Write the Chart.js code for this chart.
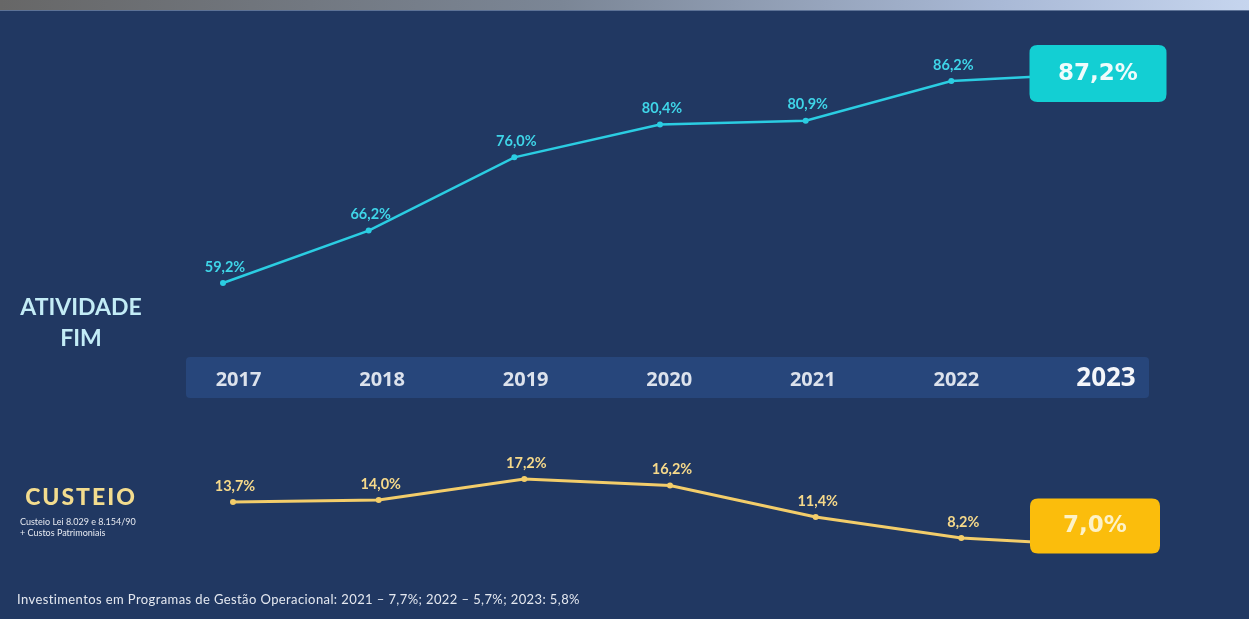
<!DOCTYPE html>
<html>
<head>
<meta charset="utf-8">
<script src="https://cdn.jsdelivr.net/npm/chart.js@4/dist/chart.umd.min.js"></script>
<style>
  html,body{margin:0;padding:0;}
  body{width:1249px;height:619px;background:#213862;position:relative;overflow:hidden;font-family:Lato,"Open Sans",sans-serif;}
  #strip{position:absolute;left:0;top:0;width:1249px;height:10px;background:linear-gradient(90deg,#676767 0%,#7b8696 45%,#a9b9d6 80%,#c6d5ee 100%);border-bottom:1px solid #5d7296;}
  canvas{position:absolute;left:0;top:0;}
  .lbl{position:absolute;text-align:center;font-weight:700;}
  #atv{left:0;width:162px;top:291px;color:#c3ecf6;font-size:23px;line-height:31px;}
  #cus{left:0;width:162px;top:482px;color:#f3dc8e;font-size:23px;letter-spacing:2px;font-weight:900;}
  #cusSub{position:absolute;left:20px;top:516px;color:#e6e9f0;font-size:9px;line-height:11px;}
  #foot{position:absolute;left:17px;top:591px;color:#e4e8f0;font-size:13px;letter-spacing:0.4px;}
</style>
</head>
<body>
<div id="strip"></div>
<canvas id="top" width="1249" height="619"></canvas>
<canvas id="bot" width="1249" height="619"></canvas>
<div class="lbl" id="atv">ATIVIDADE<br>FIM</div>
<div class="lbl" id="cus">CUSTEIO</div>
<div id="cusSub">Custeio Lei 8.029 e 8.154/90<br>+ Custos Patrimoniais</div>
<div id="foot">Investimentos em Programas de Gestão Operacional: 2021 – 7,7%; 2022 – 5,7%; 2023: 5,8%</div>
<script>
const years = ['2017','2018','2019','2020','2021','2022','2023'];
const atividadeFim = [59.2, 66.2, 76.0, 80.4, 80.9, 86.2, 87.2];
const custeio = [13.7, 14.0, 17.2, 16.2, 11.4, 8.2, 7.0];

const fmt = v => v.toFixed(1).replace('.', ',') + '%';

function roundRect(ctx, x, y, w, h, r) {
  ctx.beginPath();
  ctx.moveTo(x + r, y);
  ctx.lineTo(x + w - r, y);
  ctx.quadraticCurveTo(x + w, y, x + w, y + r);
  ctx.lineTo(x + w, y + h - r);
  ctx.quadraticCurveTo(x + w, y + h, x + w - r, y + h);
  ctx.lineTo(x + r, y + h);
  ctx.quadraticCurveTo(x, y + h, x, y + h - r);
  ctx.lineTo(x, y + r);
  ctx.quadraticCurveTo(x, y, x + r, y);
  ctx.closePath();
}

function labelPlugin(cfg) {
  return {
    id: 'lbl' + cfg.name,
    beforeDatasetsDraw(chart) {
      if (!cfg.band) return;
      const ctx = chart.ctx;
      ctx.save();
      ctx.fillStyle = '#27467b';
      roundRect(ctx, 186, 357, 963, 41, 4);
      ctx.fill();
      const xs = chart.scales.x;
      ctx.textAlign = 'center';
      ctx.textBaseline = 'middle';
      years.forEach((y, i) => {
        const last = i === years.length - 1;
        ctx.font = last ? 'bold 26px "Open Sans", sans-serif' : 'bold 20px "Open Sans", sans-serif';
        ctx.fillStyle = last ? '#f4f6fa' : '#dce2ec';
        const x = xs.getPixelForValue(i) + (last ? -1 : 5.5 - i * 2.1);
        ctx.fillText(y, x, last ? 379 : 380);
      });
      ctx.restore();
    },
    afterDatasetsDraw(chart) {
      const ctx = chart.ctx;
      const meta = chart.getDatasetMeta(0);
      const data = chart.data.datasets[0].data;
      ctx.save();
      ctx.textAlign = 'center';
      ctx.textBaseline = 'middle';
      meta.data.forEach((pt, i) => {
        if (i < data.length - 1) {
          ctx.font = 'bold 14.5px Lato, sans-serif';
          ctx.fillStyle = cfg.text;
          ctx.fillText(fmt(data[i]), pt.x + 2, pt.y - 16);
        } else {
          const cx = pt.x + cfg.dx, cy = pt.y + cfg.dy;
          ctx.fillStyle = cfg.box;
          roundRect(ctx, cx - cfg.w / 2, cy - cfg.h / 2, cfg.w, cfg.h, 8);
          ctx.fill();
          ctx.font = 'bold 23px "DejaVu Sans", sans-serif';
          ctx.fillStyle = cfg.boxText;
          ctx.fillText(fmt(data[i]), cx, cy);
        }
      });
      ctx.restore();
    }
  };
}

function makeChart(id, data, color, pad, ymin, ymax, width, plugin) {
  return new Chart(document.getElementById(id), {
    type: 'line',
    data: {
      labels: years,
      datasets: [{
        data: data,
        borderColor: color,
        backgroundColor: color,
        borderWidth: width,
        pointRadius: 3,
        pointHoverRadius: 3,
        pointBorderWidth: 0,
        tension: 0,
        clip: false
      }]
    },
    options: {
      responsive: false,
      animation: false,
      devicePixelRatio: 1,
      events: [],
      layout: { padding: pad },
      plugins: { legend: { display: false }, tooltip: { enabled: false } },
      scales: {
        x: { display: false, offset: false },
        y: { display: false, min: ymin, max: ymax }
      }
    },
    plugins: [plugin]
  });
}

makeChart('top', atividadeFim, '#2bcde2',
  { left: 223, right: 152, top: 52.6, bottom: 304.6 }, 55, 90, 2.5,
  labelPlugin({ name: 'top', text: '#3fd5e8', box: '#13cfd3', boxText: '#eefcfc', dx: 1, dy: 0, w: 137, h: 57 }));

makeChart('bot', custeio, '#f3cd6a',
  { left: 233, right: 142, top: 460.7, bottom: 60 }, 5, 20, 3,
  labelPlugin({ name: 'bot', text: '#f6d98a', box: '#fbbd0c', boxText: '#fdf2c8', dx: -12, dy: -20, w: 130, h: 55, band: true }));
</script>
</body>
</html>
